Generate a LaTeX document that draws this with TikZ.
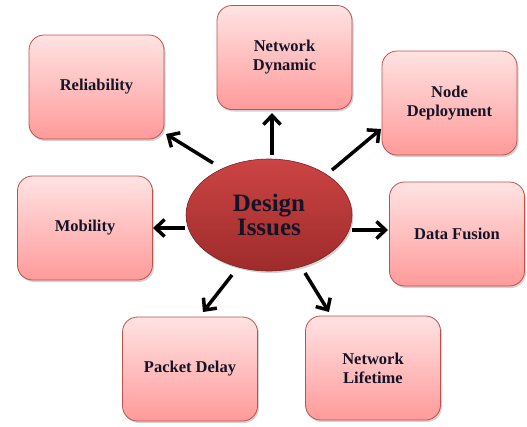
\documentclass[tikz,border=0pt]{standalone}
\usepackage{fontspec}
\setmainfont{Liberation Serif}
\usetikzlibrary{arrows.meta,shadows,shapes.geometric}
\definecolor{boxedge}{HTML}{C0504D}
\definecolor{boxtop}{HTML}{FFE3E3}
\definecolor{boxbot}{HTML}{FF9A9A}
\definecolor{elltop}{HTML}{CC4444}
\definecolor{ellbot}{HTML}{9E2B2B}
\definecolor{txt}{HTML}{141428}
\tikzset{
  issuebox/.style={draw=boxedge, line width=0.8pt, rounded corners=15pt,
    top color=boxtop, bottom color=boxbot, minimum width=135pt, minimum height=104pt,
    align=center, text=txt, font=\bfseries\fontsize{16.5}{19}\selectfont,
    drop shadow={shadow xshift=1.5pt, shadow yshift=-2pt, opacity=0.35}},
  centre/.style={ellipse, draw=ellbot!80!black, line width=0.6pt, top color=elltop, bottom color=ellbot,
    minimum width=166pt, minimum height=112pt, inner sep=0pt, align=center, text=txt,
    font=\bfseries\fontsize{25}{27}\selectfont,
    drop shadow={shadow xshift=1.5pt, shadow yshift=-2pt, opacity=0.35}},
  link/.style={line width=3.5pt, -{Straight Barb[length=9pt,width=17pt,line width=3.5pt]}}
}
\begin{document}
\begin{tikzpicture}[x=1pt,y=-1pt]
\useasboundingbox (0,0) rectangle (527,426);
\node[centre] (c) at (269,215) {Design\\[-3pt]Issues};
\node[issuebox] (rel) at (96.5,87) {Reliability};
\node[issuebox] (nd) at (284.5,57.5) {Network\\Dynamic};
\node[issuebox] (dep) at (449.5,103) {Node\\Deployment};
\node[issuebox] (mob) at (85,228) {Mobility};
\node[issuebox] (df) at (457,234) {Data Fusion};
\node[issuebox] (pd) at (190,369) {Packet Delay};
\node[issuebox] (nl) at (373,368) {Network\\Lifetime};
\coordinate (a1) at (213,163); \coordinate (b1) at (166,134);
\coordinate (a2) at (272,155); \coordinate (b2) at (272,113);
\coordinate (a3) at (332,170); \coordinate (b3) at (381,129);
\coordinate (a4) at (185,228); \coordinate (b4) at (153,228);
\coordinate (a5) at (352,230); \coordinate (b5) at (388,230);
\coordinate (a6) at (232,275); \coordinate (b6) at (203,312);
\coordinate (a7) at (305,273); \coordinate (b7) at (329,312);
\draw[link] (a1) -- (b1);
\draw[link] (a2) -- (b2);
\draw[link] (a3) -- (b3);
\draw[link] (a4) -- (b4);
\draw[link] (a5) -- (b5);
\draw[link] (a6) -- (b6);
\draw[link] (a7) -- (b7);
\end{tikzpicture}
\end{document}
